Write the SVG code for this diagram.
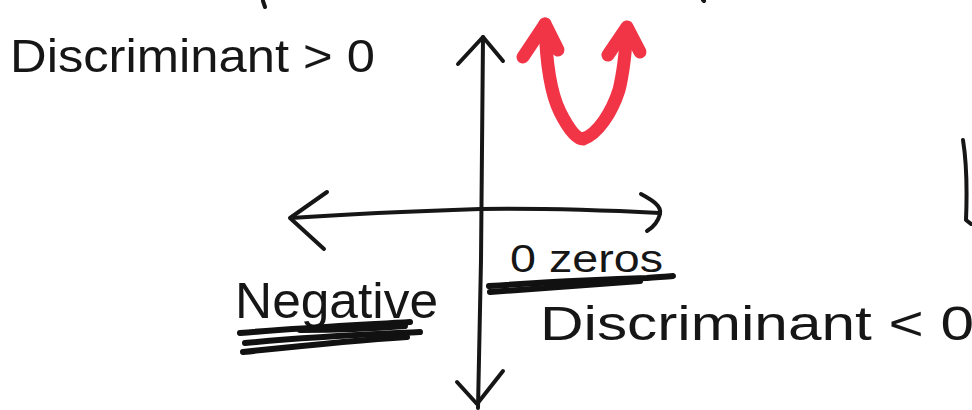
<svg xmlns="http://www.w3.org/2000/svg" width="972" height="410" viewBox="0 0 972 410">
  <style>
    .ink { fill: none; stroke: #161616; stroke-width: 4; stroke-linecap: round; stroke-linejoin: round; }
    .heavy { fill: none; stroke: #111; stroke-width: 6; stroke-linecap: round; stroke-linejoin: round; }
    .red { fill: none; stroke: #f23447; stroke-width: 13; stroke-linecap: round; stroke-linejoin: round; }
    .hand { font-family: "Liberation Sans", "DejaVu Sans", sans-serif; fill: #161616; }
  </style>
  <rect width="972" height="410" fill="#ffffff"/>

  <!-- coordinate axes -->
  <g id="connectors">
    <!-- vertical axis with arrowheads at both ends -->
    <path class="ink" d="M483 37 C482 120 481 200 481 260 C480 320 479 370 478 408"/>
    <path class="ink" d="M458 64 L483 37 L503 61"/>
    <path class="ink" d="M457 382 L477 404 L503 371"/>
    <!-- horizontal axis with arrowheads at both ends -->
    <path class="ink" d="M291 218 C350 214 420 211 480 209 C560 208 620 211 660 213"/>
    <path class="ink" d="M327 192 L290 218 L324 249"/>
    <path class="ink" d="M641 194 C652 200 662 206 660 214 C658 222 652 228 647 231"/>
  </g>

  <!-- upward-opening parabola -->
  <g id="parabola">
    <path class="red" d="M545 24 C546 60 550 92 560 112 C568 128 576 139 583 139 C598 134 612 112 619 90 C624 70 626 45 627 28"/>
    <path class="red" d="M523 57 L545 24 L558 50"/>
    <path class="red" d="M608 55 L627 27 L640 52"/>
  </g>

  <!-- small stray marks -->
  <g id="marks">
    <path class="ink" d="M263 1 L265 7"/>
    <path class="ink" d="M703 0 L704 1"/>
    <path class="ink" d="M963 140 C967 165 967 195 966 220 L971 224"/>
  </g>

  <g id="label-positive">
    <text class="hand" x="10" y="72" font-size="46" textLength="365" lengthAdjust="spacingAndGlyphs">Discriminant &gt; 0</text>
  </g>

  <g id="label-negative">
    <text class="hand" x="235" y="318" font-size="50" textLength="203" lengthAdjust="spacingAndGlyphs">Negative</text>
    <path class="heavy" d="M240 333 C300 328 360 325 410 322"/>
    <path class="heavy" d="M245 343 C320 336 380 334 420 332"/>
    <path class="heavy" d="M243 352 C300 346 360 340 407 337"/>
    <path class="heavy" d="M300 330 C340 330 380 328 405 326"/>
  </g>

  <g id="label-zeros">
    <text class="hand" x="510" y="272" font-size="38" textLength="153" lengthAdjust="spacingAndGlyphs">0 zeros</text>
    <path class="heavy" d="M489 286 C550 282 610 279 647 278 C658 277 666 277 673 276"/>
    <path class="heavy" d="M490 292 C550 288 600 284 640 281"/>
  </g>

  <g id="label-condition">
    <text class="hand" x="540" y="340" font-size="48" textLength="434" lengthAdjust="spacingAndGlyphs">Discriminant &lt; 0</text>
  </g>
</svg>
